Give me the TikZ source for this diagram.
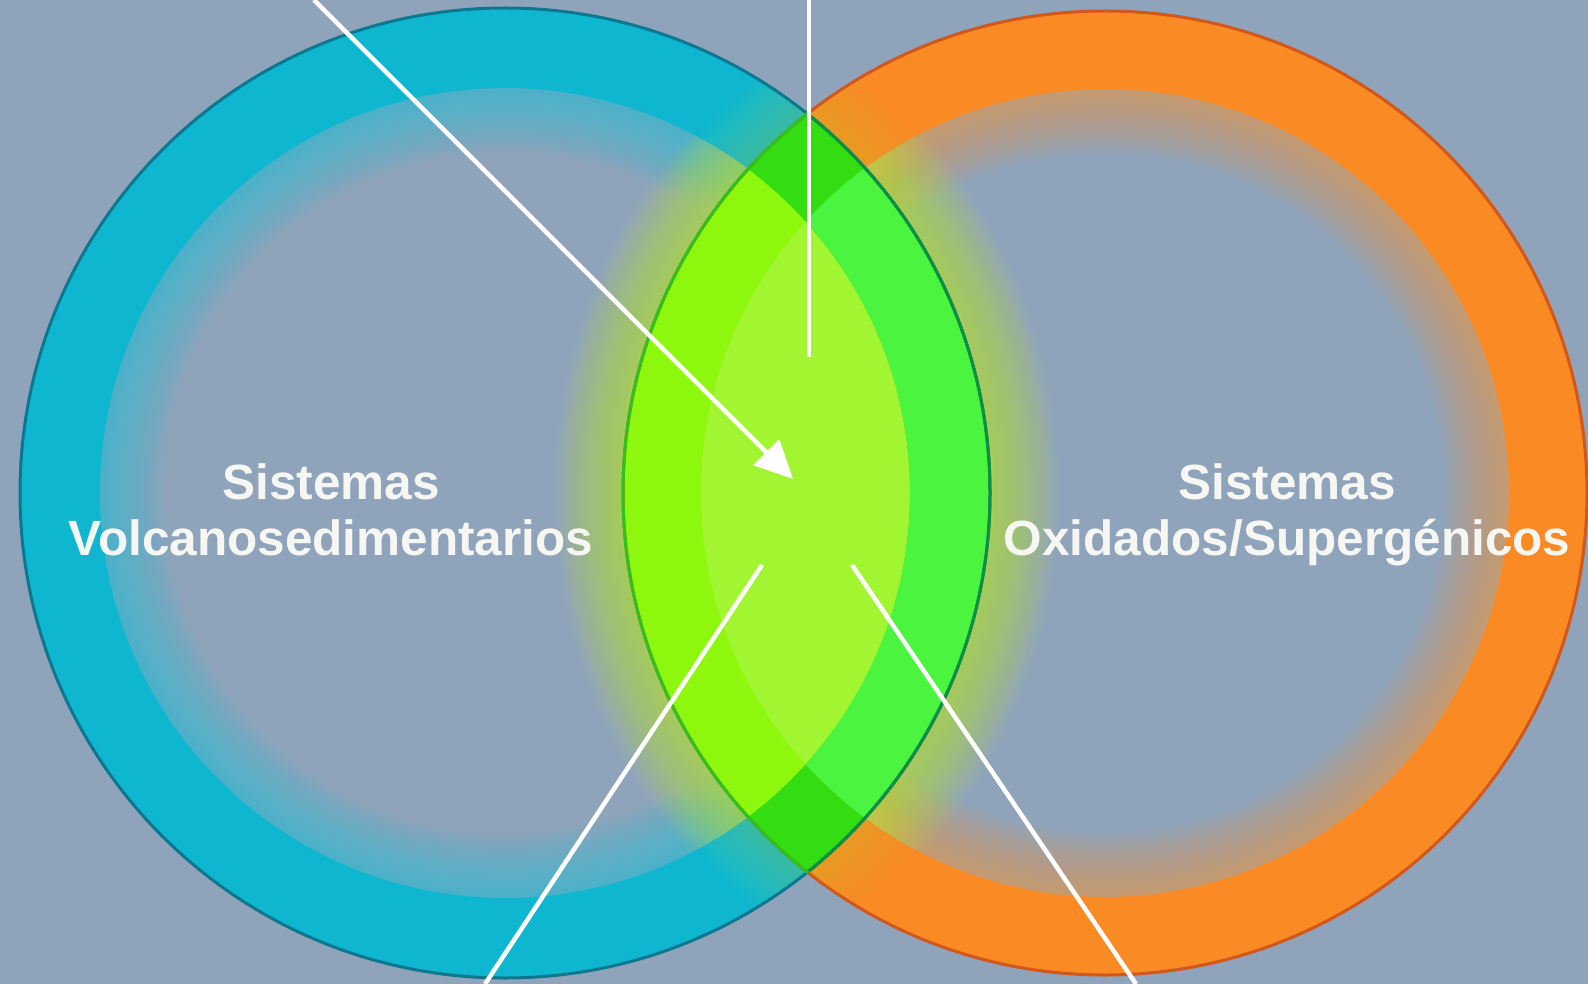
\documentclass[tikz,border=0pt]{standalone}
\usepackage{fontspec}
\setmainfont{Liberation Sans}
\usetikzlibrary{arrows.meta}
\definecolor{bg}{HTML}{8FA4BB}
\definecolor{cyanring}{HTML}{0FB6D0}
\definecolor{cyanlt}{HTML}{2CC0D8}
\definecolor{cyanborder}{HTML}{0B7890}
\definecolor{orangering}{HTML}{FA8A24}
\definecolor{orangelt}{HTML}{F59A40}
\definecolor{orangeborder}{HTML}{D2571A}
\definecolor{lenscore}{HTML}{A2F531}
\definecolor{lensL}{HTML}{8DF80D}
\definecolor{lensR}{HTML}{4BF43E}
\definecolor{lensX}{HTML}{33DD12}
\definecolor{lensLborder}{HTML}{2CC41C}
\definecolor{lensRborder}{HTML}{0E9040}
\definecolor{glowc}{HTML}{C4EC38}
\definecolor{txt}{HTML}{F6F6F2}
\tikzset{
  ringborder/.style={line width=3pt},
  softstroke/.style={line width=#1pt},
  pointer/.style={draw=white, line width=4.5pt},
  label/.style={font=\bfseries\fontsize{49.5}{56}\selectfont, text=txt, anchor=base, inner sep=0pt}
}
\begin{document}
\begin{tikzpicture}[x=1pt,y=-1pt]
\useasboundingbox (0,0) rectangle (1588,984);
\fill[bg] (0,0) rectangle (1588,984);
\coordinate (C1) at (505,493);
\coordinate (C2) at (1105,493);
% inner soft gradients of the rings
\foreach \w in {8,16,...,128} {
  \draw[cyanlt, draw opacity=0.06, softstroke=\w] (C1) circle[radius=405];
  \draw[orangelt, draw opacity=0.05, softstroke=\w] (C2) circle[radius=404];
}
% rings
\fill[cyanring, even odd rule] (C1) circle[radius=485] (C1) circle[radius=405];
\fill[orangering, even odd rule] (C2) circle[radius=482] (C2) circle[radius=404];
% glow around the lens: faint over the rings, stronger over the interiors
\begin{scope}
  \clip (C2) circle[radius=482];
  \foreach \w in {8,16,...,120} {\draw[glowc, draw opacity=0.02, softstroke=\w] (C1) circle[radius=485];}
  \clip (C2) circle[radius=404];
  \foreach \w in {8,16,...,136} {\draw[glowc, draw opacity=0.045, softstroke=\w] (C1) circle[radius=485];}
\end{scope}
\begin{scope}
  \clip (C1) circle[radius=485];
  \foreach \w in {8,16,...,120} {\draw[glowc, draw opacity=0.02, softstroke=\w] (C2) circle[radius=482];}
  \clip (C1) circle[radius=405];
  \foreach \w in {8,16,...,136} {\draw[glowc, draw opacity=0.045, softstroke=\w] (C2) circle[radius=482];}
\end{scope}
% lens
\begin{scope}
  \clip (C1) circle[radius=485];
  \fill[lensL] (C2) circle[radius=482];
  \begin{scope}
    \clip (C2) circle[radius=404];
    \fill[lenscore] (C1) circle[radius=485];
  \end{scope}
  \begin{scope}
    \clip (C2) circle[radius=482];
    \fill[lensX, even odd rule] (C1) circle[radius=485] (C1) circle[radius=405];
    \clip (C2) circle[radius=404];
    \fill[lensR, even odd rule] (C1) circle[radius=485] (C1) circle[radius=405];
  \end{scope}
\end{scope}
% borders
\draw[ringborder, cyanborder] (C1) circle[radius=485];
\draw[ringborder, orangeborder] (C2) circle[radius=482];
\begin{scope}
  \clip (C2) circle[radius=483];
  \draw[ringborder, lensRborder] (C1) circle[radius=485];
\end{scope}
\begin{scope}
  \clip (C1) circle[radius=486];
  \draw[ringborder, lensLborder] (C2) circle[radius=482];
\end{scope}
% pointer lines
\coordinate (a1) at (314,0);
\coordinate (a2) at (793,479);
\coordinate (v1) at (809,0);
\coordinate (v2) at (809,357);
\coordinate (b1) at (762,565);
\coordinate (b2) at (485,984);
\coordinate (c1) at (852,565);
\coordinate (c2) at (1136,984);
\draw[pointer, -{Triangle[length=38pt,width=36pt]}] (a1) -- (a2);
\draw[pointer] (v1) -- (v2);
\draw[pointer] (b1) -- (b2);
\draw[pointer] (c1) -- (c2);
% labels
\node[label] (l1) at (331,499) {Sistemas};
\node[label] (l2) at (331,555) {Volcanosedimentarios};
\node[label] (r1) at (1287,499) {Sistemas};
\node[label] (r2) at (1287,555) {Oxidados/Supergénicos};
\end{tikzpicture}
\end{document}
